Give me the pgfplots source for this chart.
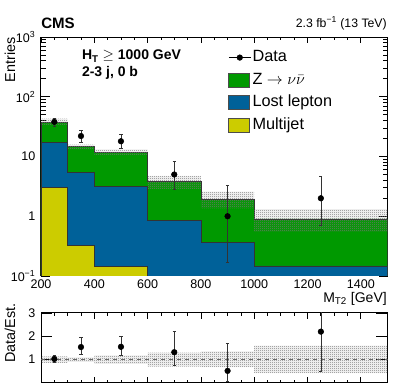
\documentclass[border=0pt]{standalone}
\usepackage{fontspec}
\setmainfont{Liberation Sans}
\usepackage{pgfplots}
\pgfplotsset{compat=1.18}
\usetikzlibrary{patterns}

\definecolor{zgreen}{RGB}{0,153,0}
\definecolor{llblue}{RGB}{0,97,153}
\definecolor{qcdyel}{RGB}{204,204,0}

% fine checkerboard, like the ROOT hatch style of the uncertainty band
\pgfdeclarepatternformonly{checker}{\pgfpointorigin}{\pgfpoint{1.5pt}{1.5pt}}{\pgfpoint{1.5pt}{1.5pt}}{
  \pgfpathrectangle{\pgfpointorigin}{\pgfpoint{0.75pt}{0.75pt}}
  \pgfpathrectangle{\pgfpoint{0.75pt}{0.75pt}}{\pgfpoint{0.75pt}{0.75pt}}
  \pgfusepath{fill}
}

\pgfplotsset{
  rootframe/.style={
    scale only axis,
    width=259.875pt,
    xmin=200, xmax=1500,
    xtick={200,400,...,1400},
    minor x tick num=3,
    tick align=inside,
    axis line style={line width=0.75pt},
    every tick/.style={black, line width=0.6pt},
    ticklabel style={font=\fontsize{9.4}{10}\selectfont, inner sep=0pt},
    yticklabel style={xshift=-4pt},
    xticklabel style={yshift=-2.6pt},
    xtick style={/pgfplots/major tick length=4.5pt, /pgfplots/minor tick length=2.4pt},
  },
}

\begin{document}
\begin{tikzpicture}
\path[use as bounding box] (0,0) rectangle (305.25pt,293.25pt);

% upper panel
\begin{axis}[
  rootframe,
  at={(30.75pt,86.25pt)}, anchor=south west,
  height=179.25pt,
  ymode=log, ymin=0.1, ymax=1000,
  xticklabels={200,400,600,800,1000,1200,1400},
  ytick={0.1,1,10,100,1000},
  yticklabels={10\textsuperscript{−1},1,10,10\textsuperscript{2},10\textsuperscript{3}},
  ytick style={/pgfplots/major tick length=6.75pt, /pgfplots/minor tick length=3.4pt},
  legend style={at={(0.54,0.951)}, anchor=north west, draw=none, fill=none,
    font=\fontsize{12.2}{12.2}\selectfont, row sep=4pt, inner sep=0pt,
    nodes={inner sep=1pt, text height=8.7pt, text depth=2.2pt}},
  legend cell align=left,
]
\addplot[const plot, fill=zgreen, draw=black!80, line width=0.6pt, forget plot] coordinates {
  (200,0.01) (200,37) (300,14.5) (400,11.6) (600,3.8) (800,1.94) (1000,0.9) (1500,0.9) (1500,0.01)};
\addplot[const plot, fill=llblue, draw=black!80, line width=0.6pt, forget plot] coordinates {
  (200,0.01) (200,17.3) (300,5.4) (400,3.2) (600,0.865) (800,0.36) (1000,0.147) (1500,0.147) (1500,0.01)};
\addplot[const plot, fill=qcdyel, draw=black!80, line width=0.6pt, forget plot] coordinates {
  (200,0.01) (200,3.05) (300,0.32) (400,0.143) (600,0.01)};
% uncertainty band
\addplot[draw=none, pattern=checker, pattern color=black!55, forget plot] coordinates {
  (200,43.1) (300,43.1) (300,15.8) (400,15.8) (400,13.2) (600,13.2) (600,4.72) (800,4.72)
  (800,2.58) (1000,2.58) (1000,1.32) (1500,1.32)
  (1500,0.55) (1000,0.55) (1000,1.36) (800,1.36) (800,2.86) (600,2.86) (600,10.6) (400,10.6)
  (400,13.2) (300,13.2) (300,33.8) (200,33.8)} -- cycle;
% data
\addplot[only marks, mark=*, mark size=2.1pt, black, forget plot,
  error bars/.cd, y dir=both, y explicit,
  error mark options={mark size=1.2pt, line width=0.4pt, rotate=90},
  error bar style={line width=0.5pt, black!80}]
coordinates {
  (250,38) += (0,6.2) -= (0,6.2)
  (350,22) += (0,5.7) -= (0,4.7)
  (500,18) += (0,5.3) -= (0,4.2)
  (700,5) += (0,3.38) -= (0,2.16)
  (900,1) += (0,2.3) -= (0,0.83)
  (1250,2) += (0,2.64) -= (0,1.29)
};
\addlegendimage{legend image code/.code={\draw[black, line width=0.6pt] (0pt,0pt) -- (16.5pt,0pt); \fill[black] (8.25pt,0pt) circle (2.1pt);}}
\addlegendentry{Data}
\addlegendimage{legend image code/.code={\draw[fill=zgreen, draw=black!70, line width=0.5pt] (0pt,-5.25pt) rectangle (15.75pt,5.25pt);}}
\addlegendentry{Z $\rightarrow \nu\bar{\nu}$}
\addlegendimage{legend image code/.code={\draw[fill=llblue, draw=black!70, line width=0.5pt] (0pt,-5.25pt) rectangle (15.75pt,5.25pt);}}
\addlegendentry{Lost lepton}
\addlegendimage{legend image code/.code={\draw[fill=qcdyel, draw=black!70, line width=0.5pt] (0pt,-5.25pt) rectangle (15.75pt,5.25pt);}}
\addlegendentry{Multijet}
\end{axis}

% ratio panel
\begin{axis}[
  rootframe,
  at={(30.75pt,6pt)}, anchor=south west,
  height=52.5pt,
  ymin=0, ymax=3,
  xticklabels={},
  ytick={1,2,3},
  yticklabels={1,2,3},
  ytick style={/pgfplots/major tick length=8.5pt},
]
\addplot[dashed, black!60, line width=0.5pt] coordinates {(200,1) (1500,1)};
\addplot[draw=none, pattern=checker, pattern color=black!55] coordinates {
  (200,1.14) (300,1.14) (300,1.10) (400,1.10) (400,1.18) (600,1.18) (600,1.30) (800,1.30)
  (800,1.35) (1000,1.35) (1000,1.60) (1500,1.60)
  (1500,0.42) (1000,0.42) (1000,0.68) (800,0.68) (800,0.70) (600,0.70) (600,0.82) (400,0.82)
  (400,0.90) (300,0.90) (300,0.86) (200,0.86)} -- cycle;
\addplot[only marks, mark=*, mark size=2.1pt, black,
  error bars/.cd, y dir=both, y explicit,
  error mark options={mark size=1.2pt, line width=0.4pt, rotate=90},
  error bar style={line width=0.5pt, black!80}]
coordinates {
  (250,1.03) +- (0,0.16)
  (350,1.54) += (0,0.40) -= (0,0.33)
  (500,1.55) += (0,0.46) -= (0,0.36)
  (700,1.32) += (0,0.89) -= (0,0.57)
  (900,0.52) += (0,1.19) -= (0,0.43)
  (1250,2.2) += (0,2.9) -= (0,1.7)
};
\end{axis}

% text
\node[anchor=base west, inner sep=0pt, font=\fontsize{11.3}{12}\selectfont\bfseries] at (30.75pt,272pt) {CMS};
\node[anchor=base east, inner sep=0pt, font=\fontsize{9.2}{10}\selectfont] at (290.25pt,272.8pt) {2.3 fb\textsuperscript{−1} (13 TeV)};
\node[anchor=base west, inner sep=0pt, font=\fontsize{10.5}{11}\selectfont\bfseries] at (61.3pt,248.25pt) {H\textsubscript{T} $\geq$ 1000 GeV};
\node[anchor=base west, inner sep=0pt, font=\fontsize{10.5}{11}\selectfont\bfseries] at (61.3pt,235.7pt) {2-3 j, 0 b};
\node[anchor=base east, inner sep=0pt, font=\fontsize{10.5}{11}\selectfont] at (290.25pt,66.5pt) {M\textsubscript{T2} [GeV]};
\node[anchor=base east, inner sep=0pt, rotate=90, font=\fontsize{10.8}{11}\selectfont] at (11.25pt,265.5pt) {Entries};
\node[anchor=base east, inner sep=0pt, rotate=90, font=\fontsize{10.8}{11}\selectfont] at (11.25pt,66pt) {Data/Est.};
\end{tikzpicture}
\end{document}
